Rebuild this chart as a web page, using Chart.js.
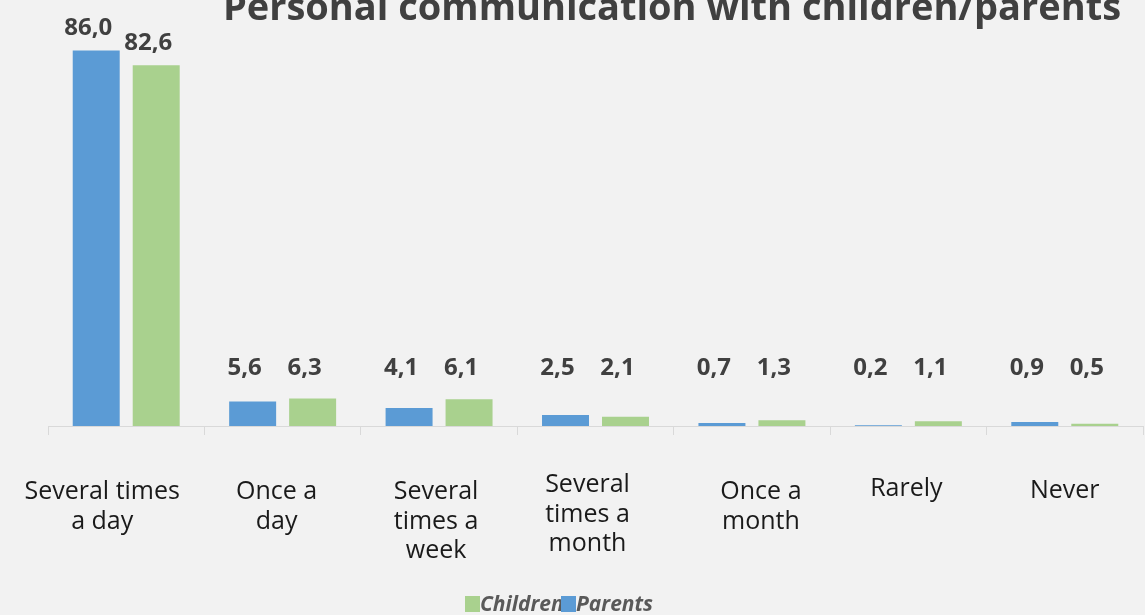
<!DOCTYPE html>
<html>
<head>
<meta charset="utf-8">
<script src="https://cdn.jsdelivr.net/npm/chart.js@4/dist/chart.umd.min.js"></script>
<style>
  html, body { margin: 0; padding: 0; background: #F2F2F2; }
  #wrap { width: 1145px; height: 615px; position: relative; }
</style>
</head>
<body>
<div id="wrap"><canvas id="c" width="1145" height="615"></canvas></div>
<script>
// Survey answers: how often people talk in person with their children / parents (%)
const categories = [
  ['Several times', 'a day'],
  ['Once a', 'day'],
  ['Several', 'times a', 'week'],
  ['Several', 'times a', 'month'],
  ['Once a', 'month'],
  ['Rarely'],
  ['Never']
];
const parents  = [86.0, 5.6, 4.1, 2.5, 0.7, 0.2, 0.9];
const children = [82.6, 6.3, 6.1, 2.1, 1.3, 1.1, 0.5];
const seriesNames = ['Parents', 'Children'];
const titleText = 'Personal communication with children/parents';

// small hand nudges for the wrapped category captions [dx, dy]
const captionNudge = [[-24, 0], [-6, 0], [-3, 0], [-8, -7], [9, 0], [-2, -3], [0, -1]];

const BLUE = '#5B9BD5';
const GREEN = '#A9D18E';
const FONT = '"Open Sans", "Noto Sans", sans-serif';

const fmt = v => v.toFixed(1).replace('.', ',');

const decorations = {
  id: 'decorations',
  beforeDraw(chart) {
    const ctx = chart.ctx;
    ctx.save();
    ctx.fillStyle = '#F2F2F2';
    ctx.fillRect(0, 0, chart.width, chart.height);
    ctx.restore();
  },
  afterDraw(chart) {
    const ctx = chart.ctx;
    const x = chart.scales.x;
    ctx.save();

    // title
    ctx.fillStyle = '#404040';
    ctx.font = 'bold 38px ' + FONT;
    ctx.textAlign = 'center';
    ctx.textBaseline = 'alphabetic';
    ctx.fillText(titleText, 672, 20);

    // value labels
    ctx.font = 'bold 24px ' + FONT;
    ctx.fillStyle = '#404040';
    chart.data.datasets.forEach((ds, di) => {
      const meta = chart.getDatasetMeta(di);
      meta.data.forEach((bar, i) => {
        const y = Math.min(bar.y - 15, 375);
        ctx.fillText(fmt(ds.data[i]), bar.x - 8, y);
      });
    });

    // category captions
    ctx.font = '25px ' + FONT;
    ctx.fillStyle = '#1A1A1A';
    categories.forEach((lines, i) => {
      const cx = x.getPixelForValue(i) + captionNudge[i][0];
      lines.forEach((ln, k) => {
        ctx.fillText(ln, cx, 499 + captionNudge[i][1] + k * 29.5);
      });
    });

    // legend (Children first, then Parents)
    ctx.font = 'italic bold 21px ' + FONT;
    ctx.textAlign = 'left';
    const order = [1, 0];
    let lx = 465;
    order.forEach(di => {
      const ds = chart.data.datasets[di];
      ctx.fillStyle = ds.backgroundColor;
      ctx.fillRect(lx, 596, 15, 16);
      ctx.fillStyle = '#595959';
      ctx.fillText(ds.label, lx + 15, 611);
      lx += 96;
    });
    ctx.restore();
  }
};

new Chart(document.getElementById('c'), {
  type: 'bar',
  data: {
    labels: categories.map(l => l.join(' ')),
    datasets: [
      { label: seriesNames[0], data: parents, backgroundColor: BLUE },
      { label: seriesNames[1], data: children, backgroundColor: GREEN }
    ]
  },
  options: {
    responsive: false,
    animation: false,
    events: [],
    categoryPercentage: 0.767,
    barPercentage: 0.783,
    layout: { padding: { left: 48, right: 2, top: 33, bottom: 0 } },
    plugins: { legend: { display: false }, title: { display: false }, tooltip: { enabled: false } },
    scales: {
      x: {
        grid: { display: true, offset: true, drawOnChartArea: false, color: '#D9D9D9', tickLength: 9, lineWidth: 1 },
        border: { display: true, color: '#D9D9D9', width: 1 },
        ticks: { display: false },
        afterFit(scale) { scale.height = 189; }
      },
      y: {
        display: false,
        min: 0,
        max: 90
      }
    }
  },
  plugins: [decorations]
});
</script>
</body>
</html>
